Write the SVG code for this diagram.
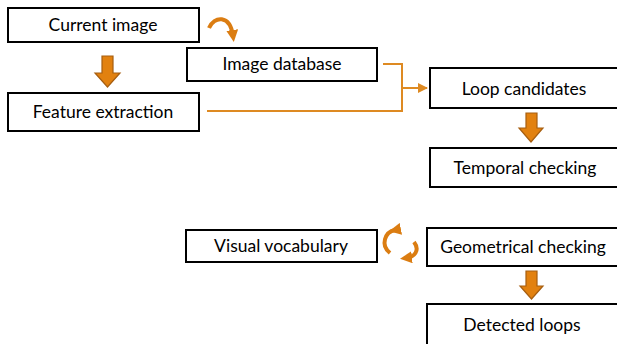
<svg xmlns="http://www.w3.org/2000/svg" width="617" height="344" viewBox="0 0 617 344">
<defs>
<style>
.box{fill:#fff;stroke:#000;stroke-width:2}
.lbl{font-family:Lato,"Open Sans",sans-serif;font-size:17.5px;fill:#000;text-anchor:middle}
.blk{fill:#E2810F;stroke:#A65E10;stroke-width:1.2}
.con{fill:none;stroke:#DE8A22;stroke-width:2}
.curv{fill:none;stroke:#DB7D12;stroke-width:4;stroke-linecap:butt}
</style>
<marker id="ah" viewBox="0 0 10 10" refX="9" refY="5" markerWidth="5" markerHeight="5" orient="auto">
<path d="M0,0 L10,5 L0,10 z" fill="#DE8A22"/>
</marker>
<marker id="ch" viewBox="0 0 10 10" refX="5" refY="5" markerWidth="3" markerHeight="3" orient="auto">
<path d="M0,0 L10,5 L0,10 z" fill="#DB7D12"/>
</marker>
</defs>
<rect width="617" height="344" fill="#fff"/>
<g id="connectors">
<path class="con" d="M383,64 H402 V111 H207"/>
<path class="con" d="M402,88 H427" marker-end="url(#ah)"/>
<path class="blk" d="M102,56 H113 V73 H120 L107.5,87 L95,73 H102 Z"/>
<path class="blk" d="M526,113 H537 V128 H543 L531,142 L519,128 H526 Z"/>
<path class="blk" d="M526,271 H537 V286 H543 L531.5,299 L520,286 H526 Z"/>
<path class="curv" d="M209,28 C214,16 230,14 233,36" marker-end="url(#ch)"/>
<path class="curv" d="M395,230 C385,232 380,245 390,253" marker-start="url(#ch)"/>
<path class="curv" d="M414,242 C420,250 415,257 406,258" marker-end="url(#ch)"/>
</g>
<g id="current-image"><rect class="box" x="8" y="8" width="191" height="34"/><text class="lbl" x="103" y="31">Current image</text></g>
<g id="feature-extraction"><rect class="box" x="8" y="93" width="191" height="38"/><text class="lbl" x="103" y="118">Feature extraction</text></g>
<g id="image-database"><rect class="box" x="187" y="48" width="190" height="33"/><text class="lbl" x="282" y="70">Image database</text></g>
<g id="loop-candidates"><rect class="box" x="430" y="68" width="195" height="40"/><text class="lbl" x="524" y="95">Loop candidates</text></g>
<g id="temporal-checking"><rect class="box" x="430" y="148" width="195" height="39"/><text class="lbl" x="525" y="174">Temporal checking</text></g>
<g id="visual-vocabulary"><rect class="box" x="186" y="230" width="191" height="32"/><text class="lbl" x="281" y="252">Visual vocabulary</text></g>
<g id="geometrical-checking"><rect class="box" x="427" y="228" width="198" height="38"/><text class="lbl" x="523" y="253">Geometrical checking</text></g>
<g id="detected-loops"><rect class="box" x="427" y="304" width="198" height="45"/><text class="lbl" x="522" y="331">Detected loops</text></g>
</svg>
